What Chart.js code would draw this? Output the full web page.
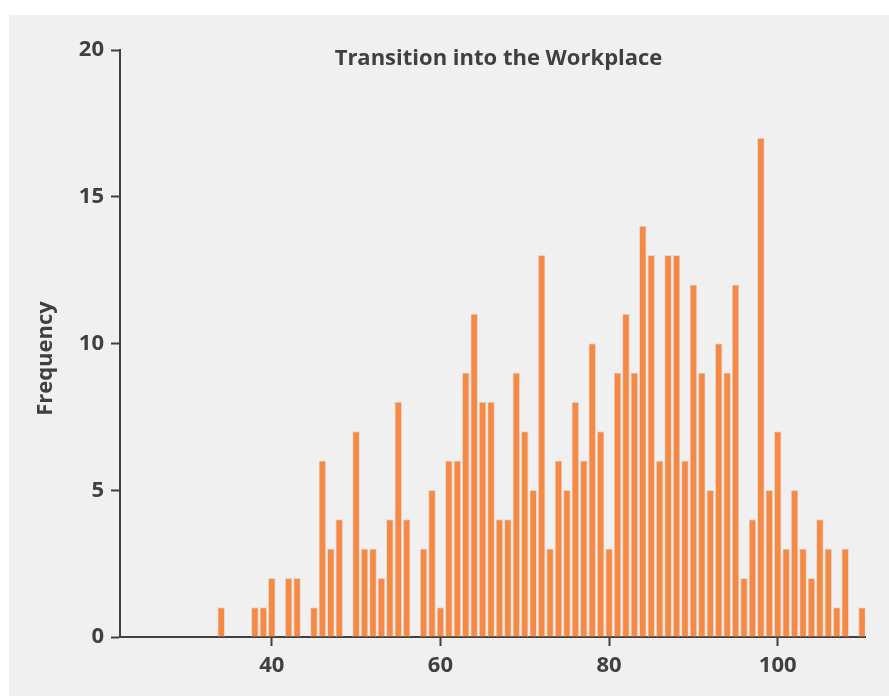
<!DOCTYPE html>
<html>
<head>
<meta charset="utf-8">
<script src="https://cdn.jsdelivr.net/npm/chart.js@4/dist/chart.umd.min.js"></script>
<style>
html, body { margin: 0; padding: 0; background: #fff; }
#panel { position: absolute; left: 9px; top: 15px; width: 880px; height: 681px; background: #f0f0f0; }
canvas { display: block; }
</style>
</head>
<body>
<div id="panel"><canvas id="hist" width="880" height="681"></canvas></div>
<script>
// score bins and how many fell in each
const bins = [34, 35, 36, 37, 38, 39, 40, 41, 42, 43, 44, 45, 46, 47, 48, 49, 50, 51, 52, 53, 54, 55, 56, 57,
  58, 59, 60, 61, 62, 63, 64, 65, 66, 67, 68, 69, 70, 71, 72, 73, 74, 75, 76, 77, 78, 79, 80, 81, 82, 83,
  84, 85, 86, 87, 88, 89, 90, 91, 92, 93, 94, 95, 96, 97, 98, 99, 100, 101, 102, 103, 104, 105, 106, 107,
  108, 109, 110];
const counts = [1, 0, 0, 0, 1, 1, 2, 0, 2, 2, 0, 1, 6, 3, 4, 0, 7, 3, 3, 2, 4, 8, 4, 0,
  3, 5, 1, 6, 6, 9, 11, 8, 8, 4, 4, 9, 7, 5, 13, 3, 6, 5, 8, 6, 10, 7, 3, 9, 11, 9,
  14, 13, 6, 13, 13, 6, 12, 9, 5, 10, 9, 12, 2, 4, 17, 5, 7, 3, 5, 3, 2, 4, 3, 1,
  3, 0, 1];
const xTicks = [40, 60, 80, 100];
const yTicks = [0, 5, 10, 15, 20];
const chartTitle = 'Transition into the Workplace';
const yTitle = 'Frequency';

const ink = '#404040';
const font = '"Open Sans", "DejaVu Sans", sans-serif';

// title sits inside the plot area, y title is a bit below centre
const overlayText = {
  id: 'overlayText',
  afterDraw(chart) {
    const { ctx, chartArea } = chart;
    ctx.save();
    ctx.fillStyle = ink;
    ctx.font = 'bold 22px ' + font;
    ctx.textAlign = 'center';
    ctx.textBaseline = 'middle';
    ctx.fillText(chartTitle, (chartArea.left + chartArea.right) / 2 + 6, chartArea.top + 9);
    ctx.translate(chartArea.left - 74, (chartArea.top + chartArea.bottom) / 2 + 15);
    ctx.rotate(-Math.PI / 2);
    ctx.fillText(yTitle, 0, 0);
    ctx.restore();
  }
};

new Chart(document.getElementById('hist'), {
  type: 'bar',
  data: {
    datasets: [{
      data: bins.map((x, i) => ({ x: x, y: counts[i] })),
      backgroundColor: '#f68a45',
      borderColor: '#e4dad3',
      borderWidth: 1,
      barThickness: 7
    }]
  },
  options: {
    responsive: false,
    animation: false,
    layout: { padding: { top: 35, right: 24, left: 0, bottom: 0 } },
    plugins: { legend: { display: false }, tooltip: { enabled: false }, title: { display: false } },
    scales: {
      x: {
        type: 'linear',
        min: 22,
        max: 110.35,
        offset: false,
        afterFit: s => { s.height = 59; },
        afterBuildTicks: s => { s.ticks = xTicks.map(v => ({ value: v })); },
        grid: { offset: false, drawOnChartArea: false, tickLength: 9, tickWidth: 2, tickColor: ink },
        border: { display: true, color: ink, width: 2 },
        ticks: { color: ink, padding: 7, font: { family: font, size: 22, weight: 'bold' } }
      },
      y: {
        min: 0,
        max: 20,
        afterFit: s => { s.width = 111; },
        afterBuildTicks: s => { s.ticks = yTicks.map(v => ({ value: v })); },
        grid: { drawOnChartArea: false, tickLength: 9, tickWidth: 2, tickColor: ink },
        border: { display: true, color: ink, width: 2 },
        ticks: { color: ink, padding: 7, font: { family: font, size: 22, weight: 'bold' } }
      }
    }
  },
  plugins: [overlayText]
});
</script>
</body>
</html>
